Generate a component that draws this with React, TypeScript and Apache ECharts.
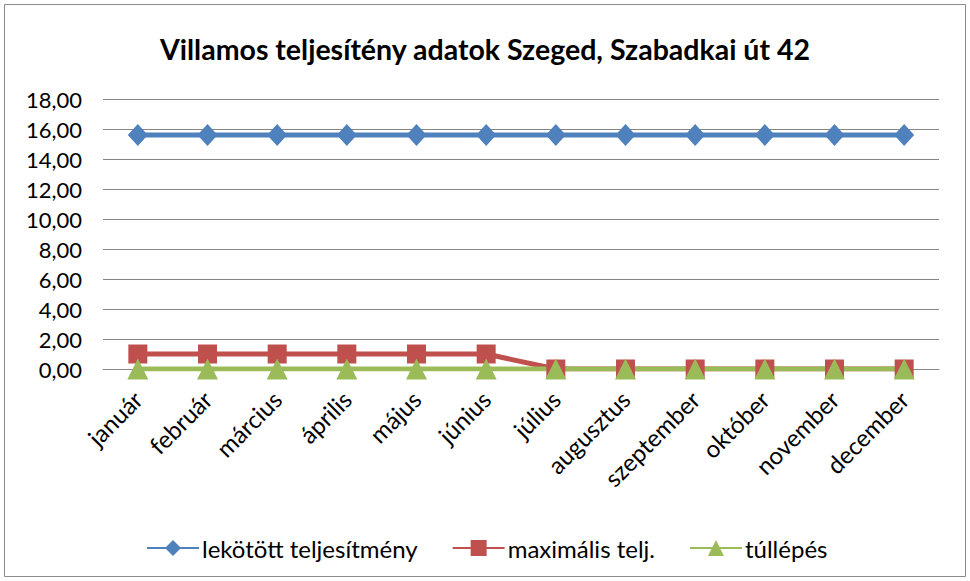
import React, { useEffect, useRef } from "react";
import * as echarts from "echarts";

const categories = ["január", "február", "március", "április", "május", "június", "július", "augusztus", "szeptember", "október", "november", "december"];
const lekotott = [15.6, 15.6, 15.6, 15.6, 15.6, 15.6, 15.6, 15.6, 15.6, 15.6, 15.6, 15.6];
const maximalis = [1, 1, 1, 1, 1, 1, 0, 0, 0, 0, 0, 0];
const tullepes = [0, 0, 0, 0, 0, 0, 0, 0, 0, 0, 0, 0];

const FONT = "Lato, 'Open Sans', sans-serif";

export default function App() {
  const ref = useRef<HTMLDivElement>(null);
  useEffect(() => {
    if (!ref.current) return;
    const chart = echarts.init(ref.current, null, { renderer: "svg" });
    chart.setOption({
      animation: false,
      backgroundColor: "#ffffff",
      textStyle: { fontFamily: FONT },
      title: {
        text: "Villamos teljesítény adatok Szeged, Szabadkai út 42",
        left: "center",
        top: 29,
        textStyle: { fontFamily: FONT, fontSize: 28.5, fontWeight: "bold", color: "#000" },
      },
      graphic: [
        {
          type: "rect",
          shape: { x: 4.5, y: 4.5, width: 961, height: 572 },
          style: { fill: "none", stroke: "#8a8a8a", lineWidth: 1 },
          silent: true,
        },
      ],
      grid: { left: 103, right: 31, top: 99, bottom: 212, containLabel: false },
      legend: {
        top: 531,
        left: 141,
        itemWidth: 52,
        itemHeight: 20,
        itemGap: 34,
        textStyle: { fontFamily: FONT, fontSize: 24, color: "#000", padding: [0, 0, 0, -2] },
        data: ["lekötött teljesítmény", "maximális telj.", "túllépés"],
      },
      xAxis: {
        type: "category",
        data: categories,
        boundaryGap: true,
        axisLine: { show: true, lineStyle: { color: "#868686" } },
        axisTick: { show: false },
        axisLabel: { rotate: 45, fontFamily: FONT, fontSize: 24, color: "#000", margin: 26, interval: 0 },
      },
      yAxis: {
        type: "value",
        min: 0,
        max: 18,
        interval: 2,
        axisLine: { show: false },
        axisTick: { show: false },
        splitLine: { lineStyle: { color: "#868686", width: 1 } },
        axisLabel: {
          fontFamily: FONT,
          fontSize: 22,
          color: "#000",
          margin: 21,
          formatter: (v: number) => v.toFixed(2).replace(".", ","),
        },
      },
      series: [
        {
          name: "lekötött teljesítmény",
          type: "line",
          data: lekotott,
          symbol: "diamond",
          symbolSize: [20, 22],
          lineStyle: { color: "#4f81bd", width: 5 },
          itemStyle: { color: "#4f81bd" },
        },
        {
          name: "maximális telj.",
          type: "line",
          data: maximalis,
          symbol: "rect",
          symbolSize: 19,
          lineStyle: { color: "#c0504d", width: 5 },
          itemStyle: { color: "#c0504d" },
        },
        {
          name: "túllépés",
          type: "line",
          data: tullepes,
          symbol: "triangle",
          symbolSize: [21, 21],
          lineStyle: { color: "#9bbb59", width: 5 },
          itemStyle: { color: "#9bbb59" },
        },
      ],
    });
    return () => chart.dispose();
  }, []);
  return <div ref={ref} style={{ position: "fixed", left: 0, top: 0, width: 970, height: 581 }} />;
}
